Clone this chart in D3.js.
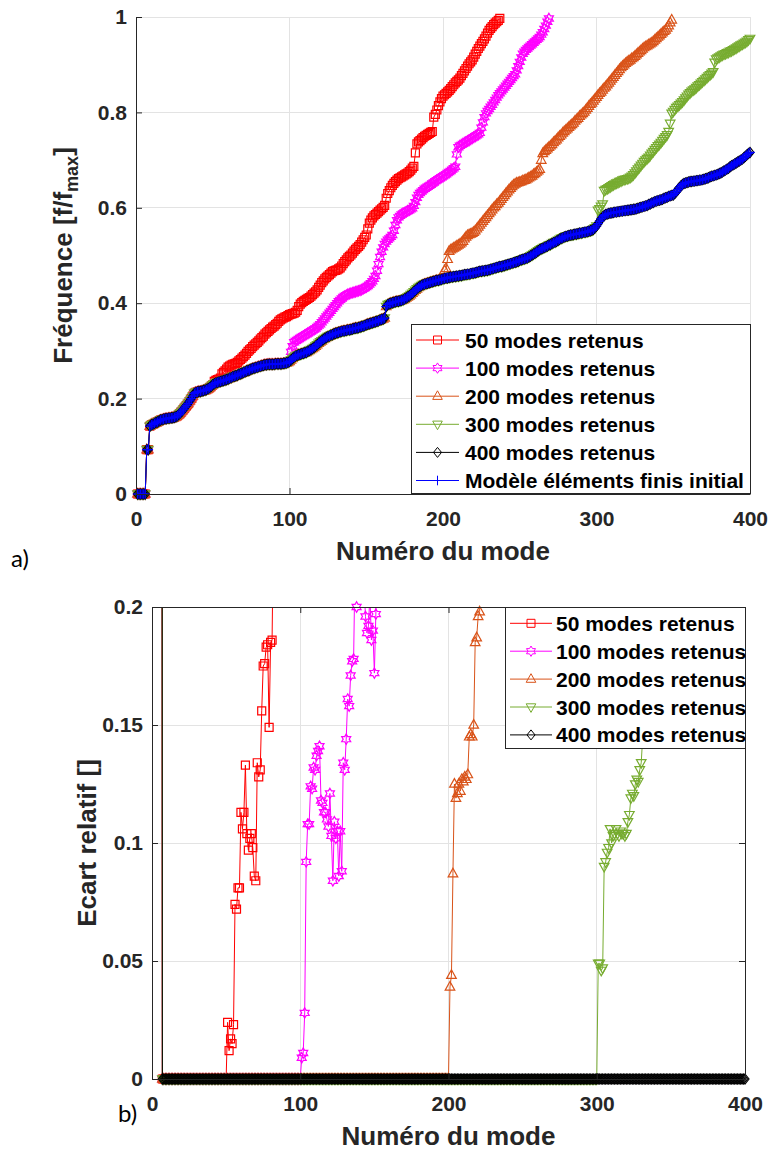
<!DOCTYPE html>
<html>
<head>
<meta charset="utf-8">
<script src="https://cdn.jsdelivr.net/npm/d3@7"></script>
<style>
    body { margin: 0; background: #fff; }
    svg text { font-family: "Liberation Sans", Arial, sans-serif; }
</style>
</head>
<body>
<div id="chart"></div>
<script>
// ---- data -----------------------------------------------------------------
const modeTicks = [0, 100, 200, 300, 400];
const freqTicks = [0, 0.2, 0.4, 0.6, 0.8, 1];
const errTicks = [0, 0.05, 0.1, 0.15, 0.2];

const seriesLabels = [
    '50 modes retenus',
    '100 modes retenus',
    '200 modes retenus',
    '300 modes retenus',
    '400 modes retenus',
    'Modèle éléments finis initial'
];
const retainedModes = [50, 100, 200, 300, 400];

// f/fmax of the initial finite element model, modes 1..400
const feFreq = [
    0, 0, 0, 0, 0, 0, 0.093, 0.093, 0.142, 0.145,
    0.146, 0.148, 0.150, 0.151, 0.153, 0.155, 0.156, 0.157, 0.158, 0.158,
    0.159, 0.159, 0.160, 0.160, 0.161, 0.162, 0.164, 0.167, 0.170, 0.174,
    0.178, 0.182, 0.186, 0.190, 0.195, 0.200, 0.205, 0.211, 0.213, 0.214,
    0.215, 0.215, 0.216, 0.217, 0.218, 0.219, 0.221, 0.223, 0.226, 0.229,
    0.231, 0.233, 0.234, 0.235, 0.236, 0.237, 0.238, 0.239, 0.240, 0.241,
    0.243, 0.244, 0.246, 0.247, 0.248, 0.249, 0.251, 0.252, 0.253, 0.255,
    0.256, 0.258, 0.259, 0.260, 0.262, 0.263, 0.264, 0.265, 0.266, 0.267,
    0.268, 0.269, 0.270, 0.271, 0.271, 0.272, 0.272, 0.272, 0.272, 0.272,
    0.273, 0.273, 0.273, 0.273, 0.273, 0.274, 0.274, 0.275, 0.276, 0.278,
    0.281, 0.284, 0.287, 0.289, 0.291, 0.292, 0.293, 0.294, 0.295, 0.296,
    0.297, 0.299, 0.301, 0.303, 0.305, 0.307, 0.310, 0.313, 0.316, 0.319,
    0.321, 0.324, 0.326, 0.328, 0.330, 0.331, 0.333, 0.334, 0.336, 0.337,
    0.338, 0.339, 0.340, 0.341, 0.342, 0.342, 0.343, 0.344, 0.344, 0.345,
    0.346, 0.347, 0.348, 0.348, 0.349, 0.350, 0.351, 0.352, 0.353, 0.355,
    0.356, 0.357, 0.358, 0.359, 0.360, 0.361, 0.362, 0.363, 0.365, 0.366,
    0.367, 0.369, 0.393, 0.397, 0.399, 0.400, 0.401, 0.402, 0.403, 0.404,
    0.404, 0.405, 0.406, 0.407, 0.409, 0.411, 0.413, 0.415, 0.418, 0.421,
    0.424, 0.427, 0.430, 0.433, 0.435, 0.437, 0.439, 0.440, 0.441, 0.442,
    0.443, 0.444, 0.445, 0.446, 0.447, 0.448, 0.448, 0.449, 0.450, 0.451,
    0.452, 0.453, 0.453, 0.454, 0.455, 0.455, 0.456, 0.456, 0.457, 0.457,
    0.458, 0.458, 0.459, 0.460, 0.460, 0.461, 0.461, 0.462, 0.463, 0.463,
    0.464, 0.465, 0.466, 0.467, 0.467, 0.468, 0.468, 0.469, 0.469, 0.470,
    0.471, 0.472, 0.473, 0.474, 0.475, 0.476, 0.477, 0.477, 0.478, 0.479,
    0.480, 0.481, 0.482, 0.483, 0.484, 0.485, 0.486, 0.487, 0.488, 0.490,
    0.491, 0.492, 0.493, 0.494, 0.495, 0.497, 0.499, 0.501, 0.503, 0.505,
    0.507, 0.510, 0.512, 0.514, 0.515, 0.517, 0.518, 0.520, 0.522, 0.523,
    0.525, 0.527, 0.528, 0.530, 0.532, 0.534, 0.536, 0.537, 0.539, 0.540,
    0.541, 0.542, 0.543, 0.543, 0.544, 0.545, 0.545, 0.546, 0.547, 0.547,
    0.548, 0.549, 0.549, 0.550, 0.551, 0.552, 0.553, 0.555, 0.558, 0.562,
    0.567, 0.572, 0.577, 0.581, 0.584, 0.586, 0.587, 0.588, 0.589, 0.589,
    0.590, 0.591, 0.591, 0.592, 0.592, 0.593, 0.593, 0.594, 0.594, 0.595,
    0.595, 0.596, 0.596, 0.597, 0.597, 0.598, 0.599, 0.600, 0.601, 0.602,
    0.603, 0.604, 0.605, 0.607, 0.608, 0.610, 0.611, 0.613, 0.614, 0.615,
    0.616, 0.617, 0.618, 0.620, 0.621, 0.622, 0.624, 0.625, 0.626, 0.627,
    0.630, 0.634, 0.638, 0.642, 0.646, 0.649, 0.651, 0.652, 0.653, 0.654,
    0.655, 0.655, 0.656, 0.656, 0.657, 0.657, 0.658, 0.658, 0.659, 0.660,
    0.661, 0.662, 0.663, 0.665, 0.666, 0.667, 0.668, 0.669, 0.670, 0.672,
    0.673, 0.675, 0.677, 0.679, 0.681, 0.683, 0.686, 0.688, 0.690, 0.692,
    0.694, 0.696, 0.698, 0.700, 0.702, 0.705, 0.708, 0.711, 0.714, 0.716
];

// reduced models: modes above the retained ones (below them they equal feFreq)
const freq50 = [ // modes 51..237
    0.236, 0.238, 0.240, 0.241, 0.243, 0.252, 0.255, 0.258, 0.262, 0.266,
    0.268, 0.270, 0.272, 0.273, 0.274, 0.276, 0.279, 0.282, 0.285, 0.288,
    0.291, 0.295, 0.299, 0.302, 0.305, 0.309, 0.312, 0.315, 0.318, 0.321,
    0.325, 0.328, 0.331, 0.335, 0.338, 0.341, 0.344, 0.347, 0.350, 0.352,
    0.355, 0.358, 0.362, 0.365, 0.367, 0.369, 0.371, 0.372, 0.374, 0.376,
    0.377, 0.378, 0.379, 0.381, 0.385, 0.393, 0.398, 0.401, 0.404, 0.406,
    0.408, 0.410, 0.412, 0.415, 0.418, 0.421, 0.424, 0.428, 0.433, 0.438,
    0.443, 0.447, 0.451, 0.454, 0.457, 0.460, 0.463, 0.466, 0.468, 0.469,
    0.470, 0.472, 0.474, 0.478, 0.483, 0.487, 0.491, 0.495, 0.498, 0.501,
    0.505, 0.509, 0.513, 0.516, 0.519, 0.523, 0.528, 0.533, 0.538, 0.543,
    0.556, 0.568, 0.574, 0.579, 0.583, 0.586, 0.589, 0.592, 0.595, 0.598,
    0.601, 0.605, 0.620, 0.630, 0.636, 0.642, 0.647, 0.651, 0.655, 0.658,
    0.661, 0.663, 0.665, 0.667, 0.669, 0.671, 0.673, 0.676, 0.679, 0.683,
    0.687, 0.715, 0.734, 0.738, 0.741, 0.744, 0.747, 0.750, 0.752, 0.754,
    0.756, 0.758, 0.760, 0.790, 0.796, 0.805, 0.814, 0.822, 0.829, 0.834,
    0.837, 0.840, 0.843, 0.846, 0.850, 0.854, 0.858, 0.862, 0.865, 0.868,
    0.872, 0.877, 0.882, 0.887, 0.892, 0.897, 0.902, 0.906, 0.910, 0.916,
    0.922, 0.928, 0.934, 0.939, 0.944, 0.949, 0.954, 0.960, 0.966, 0.972,
    0.976, 0.980, 0.984, 0.987, 0.990, 0.993, 0.997
];
const freq100 = [ // modes 101..269
    0.298, 0.310, 0.318, 0.321, 0.323, 0.325, 0.327, 0.329, 0.331, 0.333,
    0.335, 0.337, 0.339, 0.341, 0.343, 0.345, 0.347, 0.350, 0.353, 0.356,
    0.360, 0.364, 0.368, 0.372, 0.376, 0.380, 0.384, 0.388, 0.392, 0.396,
    0.400, 0.404, 0.407, 0.410, 0.413, 0.415, 0.417, 0.419, 0.420, 0.421,
    0.422, 0.423, 0.424, 0.425, 0.426, 0.427, 0.428, 0.430, 0.432, 0.434,
    0.436, 0.439, 0.442, 0.446, 0.451, 0.457, 0.468, 0.482, 0.497, 0.508,
    0.517, 0.524, 0.529, 0.533, 0.536, 0.539, 0.543, 0.552, 0.564, 0.574,
    0.580, 0.583, 0.586, 0.588, 0.590, 0.592, 0.594, 0.595, 0.597, 0.599,
    0.604, 0.612, 0.621, 0.627, 0.631, 0.634, 0.637, 0.640, 0.642, 0.644,
    0.646, 0.648, 0.651, 0.653, 0.656, 0.658, 0.660, 0.662, 0.664, 0.666,
    0.668, 0.670, 0.673, 0.675, 0.677, 0.680, 0.683, 0.686, 0.712, 0.727,
    0.730, 0.732, 0.734, 0.736, 0.738, 0.740, 0.742, 0.744, 0.746, 0.748,
    0.750, 0.752, 0.754, 0.757, 0.768, 0.779, 0.790, 0.798, 0.803, 0.807,
    0.812, 0.816, 0.821, 0.826, 0.831, 0.836, 0.840, 0.844, 0.848, 0.852,
    0.856, 0.860, 0.864, 0.868, 0.872, 0.876, 0.880, 0.888, 0.897, 0.906,
    0.915, 0.923, 0.927, 0.931, 0.934, 0.937, 0.940, 0.943, 0.946, 0.949,
    0.952, 0.955, 0.958, 0.963, 0.968, 0.975, 0.982, 0.990, 0.997
];
const freq200 = [ // modes 201..349
    0.469, 0.473, 0.492, 0.509, 0.512, 0.514, 0.516, 0.518, 0.520, 0.522,
    0.524, 0.527, 0.530, 0.535, 0.539, 0.542, 0.544, 0.545, 0.547, 0.549,
    0.552, 0.556, 0.560, 0.564, 0.568, 0.572, 0.576, 0.580, 0.584, 0.588,
    0.592, 0.596, 0.600, 0.603, 0.607, 0.610, 0.614, 0.618, 0.622, 0.626,
    0.630, 0.634, 0.638, 0.641, 0.645, 0.648, 0.650, 0.652, 0.653, 0.654,
    0.655, 0.657, 0.658, 0.659, 0.661, 0.663, 0.665, 0.667, 0.670, 0.672,
    0.675, 0.678, 0.681, 0.700, 0.714, 0.718, 0.721, 0.724, 0.727, 0.730,
    0.733, 0.737, 0.740, 0.743, 0.747, 0.750, 0.753, 0.757, 0.760, 0.763,
    0.766, 0.769, 0.772, 0.775, 0.778, 0.782, 0.785, 0.788, 0.792, 0.795,
    0.798, 0.801, 0.805, 0.809, 0.813, 0.817, 0.820, 0.824, 0.828, 0.832,
    0.836, 0.840, 0.843, 0.847, 0.851, 0.854, 0.858, 0.862, 0.866, 0.870,
    0.874, 0.878, 0.882, 0.886, 0.890, 0.894, 0.897, 0.900, 0.903, 0.906,
    0.908, 0.910, 0.913, 0.915, 0.918, 0.921, 0.924, 0.927, 0.930, 0.933,
    0.936, 0.938, 0.940, 0.942, 0.944, 0.946, 0.949, 0.952, 0.955, 0.958,
    0.961, 0.964, 0.967, 0.970, 0.973, 0.977, 0.982, 0.988, 0.994
];
const freq300 = [ // modes 301..400
    0.595, 0.598, 0.603, 0.608, 0.636, 0.638, 0.640, 0.642, 0.644, 0.646,
    0.648, 0.650, 0.652, 0.653, 0.655, 0.656, 0.658, 0.659, 0.660, 0.661,
    0.662, 0.664, 0.666, 0.669, 0.673, 0.677, 0.681, 0.685, 0.689, 0.693,
    0.697, 0.700, 0.703, 0.706, 0.710, 0.714, 0.718, 0.722, 0.726, 0.730,
    0.733, 0.737, 0.741, 0.745, 0.749, 0.753, 0.760, 0.777, 0.798, 0.802,
    0.806, 0.810, 0.813, 0.816, 0.819, 0.822, 0.826, 0.830, 0.834, 0.838,
    0.841, 0.844, 0.847, 0.849, 0.852, 0.855, 0.858, 0.861, 0.864, 0.867,
    0.870, 0.873, 0.876, 0.879, 0.882, 0.885, 0.905, 0.912, 0.914, 0.916,
    0.918, 0.920, 0.922, 0.923, 0.925, 0.926, 0.928, 0.929, 0.931, 0.933,
    0.935, 0.937, 0.939, 0.941, 0.943, 0.945, 0.947, 0.949, 0.952, 0.955
];

// relative error: modes 1..5 undefined (rigid body), mode 6 out of range
const errLead = [null, null, null, null, null, 1.5];
const err50 = [ // modes 51..84
    0.024, 0.012, 0.017, 0.015, 0.023, 0.074, 0.072, 0.081, 0.081, 0.113,
    0.106, 0.113, 0.133, 0.104, 0.097, 0.102, 0.104, 0.098, 0.086, 0.084,
    0.134, 0.128, 0.131, 0.156, 0.175, 0.176, 0.183, 0.184, 0.149, 0.185,
    0.186, 0.240, 0.260, 0.280
];
const err100 = [ // modes 101..152
    0.009, 0.011, 0.028, 0.092, 0.108, 0.108, 0.124, 0.123, 0.132, 0.131,
    0.137, 0.139, 0.141, 0.118, 0.117, 0.113, 0.113, 0.110, 0.107, 0.121,
    0.103, 0.084, 0.109, 0.102, 0.105, 0.086, 0.105, 0.088, 0.134, 0.131,
    0.144, 0.161, 0.158, 0.171, 0.177, 0.178, 0.220, 0.200, 0.240, 0.260,
    0.250, 0.230, 0.210, 0.196, 0.189, 0.192, 0.205, 0.186, 0.190, 0.172,
    0.197, 0.250
];
const err200 = [ // modes 201..222
    0.039, 0.044, 0.087, 0.125, 0.119, 0.121, 0.125, 0.122, 0.127, 0.126,
    0.128, 0.127, 0.129, 0.145, 0.146, 0.145, 0.150, 0.185, 0.187, 0.196,
    0.198, 0.250
];
const err300 = [ // modes 301..334
    0.049, 0.049, 0.046, 0.047, 0.090, 0.092, 0.096, 0.098, 0.106, 0.100,
    0.103, 0.104, 0.106, 0.104, 0.103, 0.105, 0.104, 0.104, 0.103, 0.104,
    0.109, 0.112, 0.119, 0.121, 0.120, 0.125, 0.127, 0.126, 0.131, 0.134,
    0.145, 0.160, 0.180, 0.210
];

// ---- styles ---------------------------------------------------------------
const colors = ['#ff0000', '#ff00ff', '#d95319', '#77ac30', '#000000', '#0000ff'];
const markers = ['square', 'hexagram', 'triangleUp', 'triangleDown', 'diamond', 'plus'];
const axisColor = '#262626';
const gridColor = '#e3e3e3';

// retained modes have no error, so the error is zero up to n
function zeroRun(n) {
    return new Array(n - errLead.length).fill(0);
}

const freqSeries = [
    feFreq.slice(0, 50).concat(freq50),
    feFreq.slice(0, 100).concat(freq100),
    feFreq.slice(0, 200).concat(freq200),
    feFreq.slice(0, 300).concat(freq300),
    feFreq.slice(),
    feFreq.slice()
];
const errSeries = [
    errLead.concat(zeroRun(retainedModes[0]), err50),
    errLead.concat(zeroRun(retainedModes[1]), err100),
    errLead.concat(zeroRun(retainedModes[2]), err200),
    errLead.concat(zeroRun(retainedModes[3]), err300),
    errLead.concat(zeroRun(retainedModes[4]))
];

class ModeFigure {
    constructor(containerId) {
        this.svg = d3.select(`#${containerId}`)
            .append('svg')
            .attr('width', 772)
            .attr('height', 1153);
        this.defs = this.svg.append('defs');
    }

    // marker outline centred on 0,0
    markerPath(type) {
        switch (type) {
            case 'square':
                return 'M-4,-4h8v8h-8Z';
            case 'triangleUp':
                return 'M0,-5.4L4.8,3.2L-4.8,3.2Z';
            case 'triangleDown':
                return 'M0,5.4L4.8,-3.2L-4.8,-3.2Z';
            case 'diamond':
                return 'M0,-5L4,0L0,5L-4,0Z';
            case 'plus':
                return 'M-4.8,0H4.8M0,-4.8V4.8';
            case 'hexagram': {
                let pts = [];
                for (let i = 0; i < 12; i++) {
                    let a = Math.PI * i / 6 - Math.PI / 2,
                        r = i % 2 === 0 ? 5.2 : 3;
                    pts.push([r * Math.cos(a), r * Math.sin(a)]);
                }
                return 'M' + pts.map(p => p[0].toFixed(2) + ',' + p[1].toFixed(2)).join('L') + 'Z';
            }
        }
    }

    drawPanel(cfg) {
        let g = this.svg.append('g'),
            x = d3.scaleLinear().domain([0, 400]).range([cfg.left, cfg.right]),
            y = d3.scaleLinear().domain(cfg.yDomain).range([cfg.bottom, cfg.top]);

        // grid
        let grid = g.append('g').attr('shape-rendering', 'crispEdges');
        grid.selectAll('.gx').data(modeTicks.slice(1)).enter()
            .append('line')
            .attr('x1', d => x(d)).attr('x2', d => x(d))
            .attr('y1', cfg.top).attr('y2', cfg.bottom)
            .attr('stroke', gridColor);
        grid.selectAll('.gy').data(cfg.yTicks.slice(1)).enter()
            .append('line')
            .attr('x1', cfg.left).attr('x2', cfg.right)
            .attr('y1', d => y(d)).attr('y2', d => y(d))
            .attr('stroke', gridColor);

        let clipId = `clip-${cfg.id}`;
        this.defs.append('clipPath').attr('id', clipId)
            .append('rect')
            .attr('x', cfg.left).attr('y', cfg.top)
            .attr('width', cfg.right - cfg.left)
            .attr('height', cfg.bottom - cfg.top);

        let [lo, hi] = cfg.yDomain;
        let line = d3.line()
            .defined(d => d.v !== null)
            .x(d => x(d.mode))
            .y(d => y(d.v));

        cfg.series.forEach((values, i) => {
            let pts = values.map((v, k) => ({ mode: k + 1, v: v })),
                sg = g.append('g');

            sg.append('path')
                .datum(pts)
                .attr('clip-path', `url(#${clipId})`)
                .attr('d', line)
                .attr('fill', 'none')
                .attr('stroke', colors[i])
                .attr('stroke-width', 1);

            sg.selectAll('path.mk')
                .data(pts.filter(d => d.v !== null && d.v >= lo && d.v <= hi))
                .enter()
                .append('path')
                .attr('class', 'mk')
                .attr('d', this.markerPath(markers[i]))
                .attr('transform', d => `translate(${x(d.mode)},${y(d.v)})`)
                .attr('fill', 'none')
                .attr('stroke', colors[i])
                .attr('stroke-width', 1.2);
        });

        this.drawAxes(g, x, y, cfg);
        return { x, y };
    }

    drawAxes(g, x, y, cfg) {
        let fmt = d => String(d);
        let styleAxis = sel => {
            sel.selectAll('path.domain').attr('stroke', axisColor);
            sel.selectAll('.tick line').attr('stroke', axisColor);
            sel.selectAll('.tick text')
                .attr('fill', axisColor)
                .style('font-size', '21px')
                .style('font-weight', 'bold');
        };

        g.append('g')
            .attr('transform', `translate(0,${cfg.bottom})`)
            .call(d3.axisBottom(x).tickValues(modeTicks).tickFormat(fmt)
                .tickSize(-6).tickSizeOuter(0).tickPadding(17))
            .call(styleAxis);

        g.append('g')
            .attr('transform', `translate(${cfg.left},0)`)
            .call(d3.axisLeft(y).tickValues(cfg.yTicks).tickFormat(fmt)
                .tickSize(-6).tickSizeOuter(0).tickPadding(9))
            .call(styleAxis);

        if (cfg.box) {
            g.append('g')
                .attr('transform', `translate(0,${cfg.top})`)
                .call(d3.axisTop(x).tickValues(modeTicks).tickFormat('')
                    .tickSize(-6).tickSizeOuter(0))
                .call(styleAxis);
            g.append('g')
                .attr('transform', `translate(${cfg.right},0)`)
                .call(d3.axisRight(y).tickValues(cfg.yTicks).tickFormat('')
                    .tickSize(-6).tickSizeOuter(0))
                .call(styleAxis);
        }

        g.append('text')
            .attr('x', (cfg.left + cfg.right) / 2)
            .attr('y', cfg.xLabelY)
            .attr('text-anchor', 'middle')
            .attr('fill', axisColor)
            .style('font-size', '26px')
            .style('font-weight', 'bold')
            .text('Numéro du mode');

        let yl = g.append('text')
            .attr('transform', `translate(${cfg.yLabelX},${(cfg.top + cfg.bottom) / 2}) rotate(-90)`)
            .attr('text-anchor', 'middle')
            .attr('fill', axisColor)
            .style('font-size', '26px')
            .style('font-weight', 'bold');
        cfg.yLabel(yl);
    }

    drawLegend(lg) {
        let g = this.svg.append('g');
        g.append('rect')
            .attr('x', lg.x0 + 0.5).attr('y', lg.y0 + 0.5)
            .attr('width', lg.x1 - lg.x0).attr('height', lg.y1 - lg.y0)
            .attr('fill', '#fff')
            .attr('stroke', axisColor)
            .attr('stroke-width', 1);

        let rows = g.selectAll('g.row')
            .data(lg.labels)
            .enter()
            .append('g')
            .attr('transform', (d, i) => `translate(0,${lg.rowY + i * lg.rowH})`);

        rows.append('line')
            .attr('x1', lg.lineX0).attr('x2', lg.lineX1)
            .attr('y1', 0).attr('y2', 0)
            .attr('stroke', (d, i) => colors[i]);
        rows.append('path')
            .attr('d', (d, i) => this.markerPath(markers[i]))
            .attr('transform', `translate(${(lg.lineX0 + lg.lineX1) / 2},0)`)
            .attr('fill', 'none')
            .attr('stroke', (d, i) => colors[i]);
        rows.append('text')
            .attr('x', lg.textX)
            .attr('y', 7.5)
            .attr('fill', '#000')
            .style('font-size', '21px')
            .style('font-weight', 'bold')
            .text(d => d);
    }

    render() {
        this.drawPanel({
            id: 'freq', left: 136, right: 750, top: 17, bottom: 494,
            yDomain: [0, 1], yTicks: freqTicks, series: freqSeries, box: false,
            xLabelY: 560, yLabelX: 72,
            yLabel: t => {
                t.append('tspan').text('Fréquence [f/f');
                t.append('tspan').attr('dy', 6).style('font-size', '18px').text('max');
                t.append('tspan').attr('dy', -6).text(']');
            }
        });
        this.drawLegend({
            x0: 411, x1: 750, y0: 324, y1: 493,
            rowY: 340, rowH: 28.1, lineX0: 416, lineX1: 459, textX: 465,
            labels: seriesLabels
        });

        this.drawPanel({
            id: 'err', left: 152, right: 745, top: 607, bottom: 1079,
            yDomain: [0, 0.2], yTicks: errTicks, series: errSeries, box: true,
            xLabelY: 1145, yLabelX: 96,
            yLabel: t => t.text('Ecart relatif []')
        });
        this.drawLegend({
            x0: 505, x1: 745, y0: 607, y1: 748,
            rowY: 623.3, rowH: 27.9, lineX0: 510, lineX1: 552, textX: 556,
            labels: seriesLabels.slice(0, 5)
        });

        // panel tags
        this.svg.append('text')
            .attr('x', 11).attr('y', 567)
            .style('font-family', 'Lato, "Open Sans", sans-serif')
            .style('font-size', '24px')
            .text('a)');
        this.svg.append('text')
            .attr('x', 118).attr('y', 1122)
            .style('font-family', 'Lato, "Open Sans", sans-serif')
            .style('font-size', '24px')
            .text('b)');
    }
}

new ModeFigure('chart').render();
</script>
</body>
</html>
